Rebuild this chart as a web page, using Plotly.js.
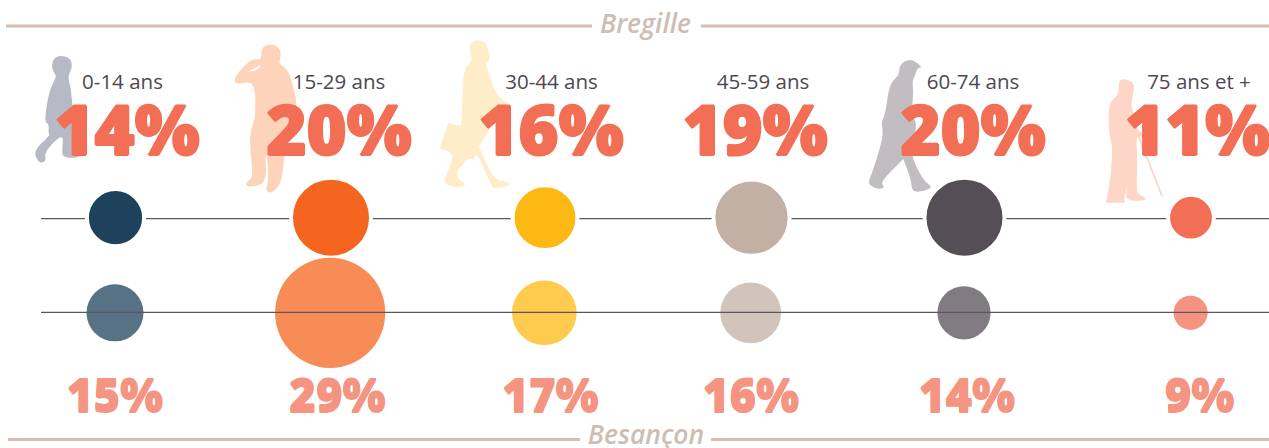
<!DOCTYPE html>
<html><head><meta charset="utf-8">
<script src="https://cdn.plot.ly/plotly-3.0.1.min.js"></script>
<style>html,body{margin:0;padding:0;background:#fff}#c{width:1269px;height:448px}</style>
</head><body><div id="c"></div>
<script>
// ---- data ----
const ageGroups = ['0-14 ans','15-29 ans','30-44 ans','45-59 ans','60-74 ans','75 ans et +'];
const bregille = [14,20,16,19,20,11];
const besancon = [15,29,17,16,14,9];
const groupColors = ['#1F425C','#F4661F','#FDB913','#C2B0A4','#544F56','#F26F56'];
// ---- layout helpers ----
const bregilleX = [115.5,331,545,751.5,964.5,1191];
const besanconX = [115,330.2,544.3,750.7,964,1190.6];
const ageX = [122.5,339,551.5,763,973,1199];
const bigX = [127,339,551,755,973,1197.5];
const smallX = [115,337.5,550.5,751,967,1199.6];
const SCALE = 3.8;
const pct = a => a.map(v => v + '%');
const rep = (v,n) => Array(n).fill(v);

function smooth(ox, oy, pts){
  const P = pts.map(p => [ox + p[0]/3, oy + p[1]/3]);
  const n = P.length;
  const mid = (a,b) => [(a[0]+b[0])/2,(a[1]+b[1])/2];
  let m = mid(P[n-1],P[0]);
  let d = 'M' + m[0].toFixed(1) + ',' + m[1].toFixed(1);
  for(let i=0;i<n;i++){
    const e = mid(P[i],P[(i+1)%n]);
    d += 'Q' + P[i][0].toFixed(1)+','+P[i][1].toFixed(1)+' '+e[0].toFixed(1)+','+e[1].toFixed(1);
  }
  return d + 'Z';
}
const figure = (ox,oy,pts,color) => ({type:'path',xref:'x',yref:'y',layer:'below',path:smooth(ox,oy,pts),fillcolor:color,line:{width:0}});

const child = [[110,16],[137,26],[142,50],[132,72],[130,88],[137,112],[142,165],[150,200],[150,300],[172,322],[112,325],[112,290],[115,262],[100,262],[58,308],[64,334],[42,340],[24,303],[75,256],[70,250],[72,222],[58,216],[70,135],[83,100],[95,78],[84,65],[80,40],[90,22]];
const youth = [[120,11],[147,20],[154,50],[145,70],[167,83],[182,110],[192,150],[201,190],[192,240],[164,340],[159,385],[152,432],[125,460],[106,454],[116,420],[112,350],[106,345],[110,430],[55,443],[45,430],[63,418],[68,400],[58,300],[68,250],[76,235],[76,122],[18,134],[10,115],[62,56],[94,60],[93,40],[98,20]];
const youthGap = [[46,100],[80,80],[98,76],[76,94],[60,92]];
const adult = [[125,15],[152,20],[162,50],[165,78],[150,85],[162,115],[182,178],[222,207],[190,240],[152,300],[132,335],[132,335],[177,436],[224,441],[224,452],[180,461],[170,455],[125,352],[116,374],[116,374],[100,370],[67,405],[68,432],[96,447],[75,459],[21,447],[43,400],[58,355],[14,340],[14,340],[40,265],[40,265],[76,274],[80,265],[83,160],[88,98],[114,78],[103,45],[106,24]];
const senior = [[145,12],[168,20],[184,36],[184,36],[171,40],[166,60],[156,80],[161,110],[156,150],[161,190],[172,215],[147,290],[190,378],[219,396],[190,410],[155,410],[154,375],[130,312],[130,312],[82,360],[62,385],[76,398],[50,403],[23,386],[34,360],[60,280],[70,235],[64,200],[75,180],[85,110],[95,80],[118,60],[118,30]];
const elder = [[58,13],[80,13],[104,26],[98,65],[92,90],[102,120],[112,165],[130,176],[132,188],[108,180],[112,240],[110,330],[112,358],[139,368],[132,377],[76,378],[82,332],[82,332],[72,370],[75,383],[75,383],[18,383],[18,383],[33,300],[38,210],[28,190],[24,85],[54,62],[56,40]];

const rule = (x0,x1,y) => ({type:'line',xref:'x',yref:'y',x0,x1,y0:y,y1:y,line:{color:'#D2C0B4',width:3}});
const axisLine = (y,layer) => ({type:'line',xref:'x',yref:'y',layer,x0:41,x1:1269,y0:y,y1:y,line:{color:'#5C575F',width:1.2}});

const shapes = [
  figure(25,50,child,'#B7BAC5'),
  figure(230,40,youth,'#FDD3B9'),
  figure(230,40,youthGap,'#FFFFFF'),
  figure(435,35,adult,'#FEEDC8'),
  figure(860,55,senior,'#C1BDC1'),
  figure(1100,75,elder,'#FDD6C8'),
  {type:'line',xref:'x',yref:'y',layer:'below',x0:1138,y0:135,x1:1162,y1:196,line:{color:'#FDD6C8',width:1.8}},
  rule(6,592,26), rule(701,1269,26), rule(8,580,439.5), rule(711,1269,439.5),
  axisLine(218.7,'below'), axisLine(312.3,'above')
];

const textTrace = (x,y,text,size,color,weight,style,shadow) => ({
  type:'scatter',mode:'text',x,y,text,textposition:'middle center',hoverinfo:'skip',
  textfont:{family:'"Open Sans", sans-serif',size,color,weight,style:style||'normal',shadow:shadow||'none'}
});
const bigColor = '#F26F56', smallColor = '#F59481';

const traces = [
  {type:'scatter',mode:'markers',name:'Bregille',x:bregilleX,y:rep(217.7,6),hoverinfo:'skip',
   marker:{size:bregille.map(v=>v*SCALE+4),sizemode:'diameter',color:groupColors,opacity:1,line:{color:'#FFFFFF',width:4}}},
  {type:'scatter',mode:'markers',name:'Besançon',x:besanconX,y:rep(312.8,6),hoverinfo:'skip',
   marker:{size:besancon.map(v=>v*SCALE),sizemode:'diameter',color:groupColors,opacity:0.75,line:{width:0}}},
  textTrace(ageX,rep(84,6),ageGroups,20.5,'#4D4852',400),
  textTrace(bigX,rep(137.5,6),pct(bregille),68.5,bigColor,800,'normal',
    `1px 0 0 ${bigColor}, -1px 0 0 ${bigColor}, 0 1px 0 ${bigColor}, 0 -1px 0 ${bigColor}`),
  textTrace(smallX,rep(401,6),pct(besancon),45.5,smallColor,800,'normal',
    `0 1px 0 ${smallColor}, 0 -1px 0 ${smallColor}`),
  textTrace([645.5],[26],['Bregille'],26.5,'#CDBDB2',600,'italic'),
  textTrace([646],[437],['Besançon'],26.5,'#CDBDB2',600,'italic')
];

Plotly.newPlot('c',traces,{
  width:1269,height:448,margin:{l:0,r:0,t:0,b:0},showlegend:false,
  paper_bgcolor:'#fff',plot_bgcolor:'#fff',
  xaxis:{range:[0,1269],visible:false,fixedrange:true},
  yaxis:{range:[448,0],visible:false,fixedrange:true},
  shapes
},{displayModeBar:false,staticPlot:true});
</script></body></html>
